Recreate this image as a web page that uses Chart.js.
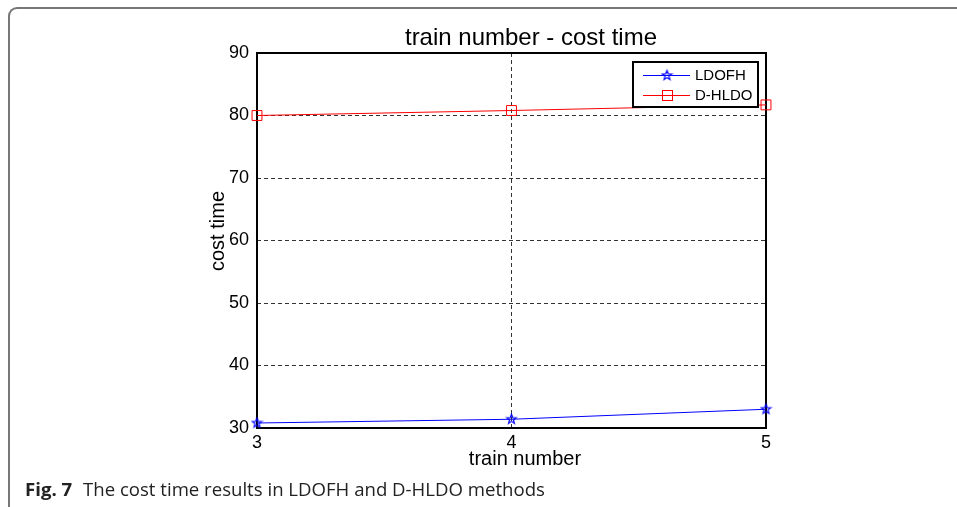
<!DOCTYPE html>
<html>
<head>
<meta charset="utf-8">
<script src="https://cdn.jsdelivr.net/npm/chart.js@4"></script>
<style>
  html, body { margin: 0; padding: 0; background: #fff; overflow: hidden; }
  body { width: 957px; height: 507px; position: relative; }
  #frame {
    position: absolute; left: 8px; top: 7px; width: 2000px; height: 1000px;
    border-top: 2px solid #777; border-left: 2px solid #777;
    border-top-left-radius: 9px; box-sizing: border-box;
  }
  #chart { position: absolute; left: 0; top: 0; }
  #caption {
    position: absolute; left: 25px; top: 480px; line-height: 18px;
    font-family: "Open Sans", sans-serif; font-size: 18.6px; color: #222; white-space: nowrap;
  }
  #caption b { font-weight: 700; margin-right: 6px; }
</style>
</head>
<body>
<div id="frame"></div>
<canvas id="chart" width="957" height="507"></canvas>
<div id="caption"><b>Fig. 7</b> The cost time results in LDOFH and D-HLDO methods</div>
<script>
// valores
const trainNumbers = [3, 4, 5];
const ldofhTimes = [30.8, 31.4, 33.0];
const dhldoTimes = [80.0, 80.8, 81.7];
const seriesNames = ['LDOFH', 'D-HLDO'];
const seriesColors = ['#0000ff', '#ff0000'];
const yTicks = [30, 40, 50, 60, 70, 80, 90];

const chartTitle = 'train number - cost time';
const xTitle = 'train number';
const yTitle = 'cost time';

const fontFamily = '"Liberation Sans", Arial, sans-serif';

// estrela de 5 pontas (pentagrama) como no MATLAB
const makeStar = (color) => {
    const c = document.createElement('canvas');
    c.width = 13; c.height = 13;
    const g = c.getContext('2d');
    g.strokeStyle = color;
    g.lineWidth = 1.2;
    g.beginPath();
    for (let i = 0; i < 10; i++) {
        const r = i % 2 === 0 ? 5 : 2.1;
        const a = -Math.PI / 2 + i * Math.PI / 5;
        const px = 6.5 + r * Math.cos(a);
        const py = 6.5 + r * Math.sin(a);
        if (i === 0) g.moveTo(px, py); else g.lineTo(px, py);
    }
    g.closePath();
    g.stroke();
    return c;
};
const starImg = makeStar(seriesColors[0]);

const toPoints = (vals) => trainNumbers.map((x, i) => ({ x: x, y: vals[i] }));

// desenha caixa dos eixos, legenda e títulos
const matlabPlugin = {
    id: 'matlab',
    beforeDatasetsDraw(chart) {
        const { ctx, chartArea: a } = chart;
        ctx.save();
        ctx.strokeStyle = '#000';
        ctx.lineWidth = 2;
        ctx.strokeRect(a.left, a.top, a.right - a.left, a.bottom - a.top);
        ctx.restore();
    },
    afterDatasetsDraw(chart) {
        const { ctx } = chart;
        // legenda
        const bx = 633, by = 62, bw = 125, bh = 45;
        ctx.save();
        ctx.fillStyle = '#fff';
        ctx.fillRect(bx, by, bw, bh);
        ctx.strokeStyle = '#000';
        ctx.lineWidth = 2;
        ctx.strokeRect(bx, by, bw, bh);
        const rows = [75, 95];
        seriesNames.forEach((name, i) => {
            const y = rows[i];
            ctx.strokeStyle = seriesColors[i];
            ctx.lineWidth = 1;
            ctx.beginPath();
            ctx.moveTo(643, y + 0.5);
            ctx.lineTo(690, y + 0.5);
            ctx.stroke();
            if (i === 0) {
                ctx.drawImage(starImg, 667 - 6.5, y - 6);
            } else {
                ctx.strokeRect(662.5, y - 4.5, 10, 10);
            }
            ctx.fillStyle = '#000';
            ctx.font = '15px ' + fontFamily;
            ctx.textAlign = 'left';
            ctx.textBaseline = 'middle';
            ctx.fillText(name, 695, y + 1);
        });
        ctx.restore();
    },
    afterDraw(chart) {
        const { ctx } = chart;
        ctx.save();
        ctx.fillStyle = '#000';
        ctx.textAlign = 'center';
        ctx.textBaseline = 'alphabetic';
        ctx.font = '24px ' + fontFamily;
        ctx.fillText(chartTitle, 531, 45);
        ctx.font = '20px ' + fontFamily;
        ctx.fillText(xTitle, 525, 465);
        ctx.translate(224, 231);
        ctx.rotate(-Math.PI / 2);
        ctx.fillText(yTitle, 0, 0);
        ctx.restore();
    }
};

new Chart(document.getElementById('chart'), {
    type: 'line',
    data: {
        datasets: [
            {
                label: seriesNames[0],
                data: toPoints(ldofhTimes),
                borderColor: seriesColors[0],
                borderWidth: 1,
                pointStyle: starImg,
                clip: false
            },
            {
                label: seriesNames[1],
                data: toPoints(dhldoTimes),
                borderColor: seriesColors[1],
                backgroundColor: 'rgba(0,0,0,0)',
                borderWidth: 1,
                pointStyle: 'rect',
                pointRadius: 7,
                pointBorderWidth: 1,
                pointBackgroundColor: 'rgba(0,0,0,0)',
                clip: false
            }
        ]
    },
    options: {
        responsive: false,
        animation: false,
        devicePixelRatio: 1,
        layout: { padding: { left: 217, top: 53, right: 191, bottom: 49 } },
        plugins: { legend: { display: false }, tooltip: { enabled: false } },
        scales: {
            x: {
                type: 'linear',
                min: trainNumbers[0],
                max: trainNumbers[trainNumbers.length - 1],
                afterFit: (s) => { s.height = 30; },
                ticks: { stepSize: 1, padding: 4, color: '#000', font: { family: fontFamily, size: 18 } },
                grid: { color: '#333', lineWidth: 1, drawTicks: false },
                border: { display: false, dash: [4, 3] }
            },
            y: {
                min: yTicks[0],
                max: yTicks[yTicks.length - 1],
                afterFit: (s) => { s.width = 40; },
                ticks: { stepSize: 10, padding: 8, color: '#000', font: { family: fontFamily, size: 18 } },
                grid: { color: '#333', lineWidth: 1, drawTicks: false },
                border: { display: false, dash: [4, 3] }
            }
        }
    },
    plugins: [matlabPlugin]
});
</script>
</body>
</html>
